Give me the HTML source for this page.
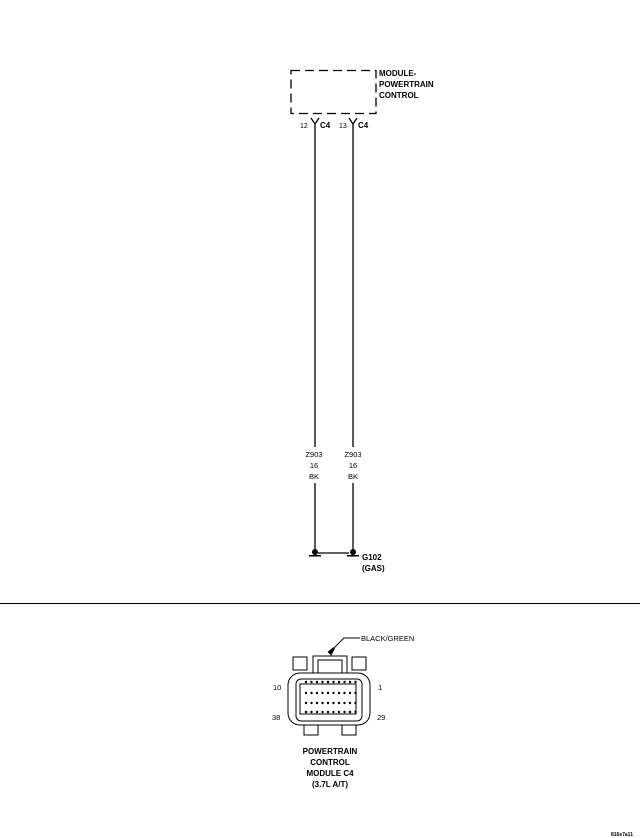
<!DOCTYPE html>
<html><head><style>body{margin:0;background:#fff}svg{display:block}text{font-family:"Liberation Sans",sans-serif}</style></head>
<body>
<svg width="640" height="838" viewBox="0 0 640 838" xmlns="http://www.w3.org/2000/svg">
<defs>
<g id="r"><circle cx="306" cy="0" r="1.2"/><circle cx="311.5" cy="0" r="1.2"/><circle cx="317" cy="0" r="1.2"/><circle cx="322.5" cy="0" r="1.2"/><circle cx="328" cy="0" r="1.2"/><circle cx="333.5" cy="0" r="1.2"/><circle cx="339" cy="0" r="1.2"/><circle cx="344.5" cy="0" r="1.2"/><circle cx="350" cy="0" r="1.2"/><circle cx="355.5" cy="0" r="1.2"/></g>
</defs>
<g fill="none" stroke="#000" stroke-width="1.3">
<rect x="291" y="70.5" width="85" height="43" stroke-dasharray="9,5"/>
<line x1="315" y1="124" x2="315" y2="447"/>
<line x1="353" y1="124" x2="353" y2="447"/>
<line x1="315" y1="483" x2="315" y2="553"/>
<line x1="353" y1="483" x2="353" y2="553"/>
<path d="M311 118 L315 124 L319 118 M349 118 L353 124 L357 118"/>
<line x1="318" y1="553" x2="349" y2="553"/>
</g>
<g font-size="8" fill="#000">
<text x="300" y="128" font-size="7">12</text><text x="320" y="128" font-weight="bold">C4</text>
<text x="339" y="128" font-size="7">13</text><text x="358" y="128" font-weight="bold">C4</text>
<text x="379" y="76" font-weight="bold">MODULE-</text>
<text x="379" y="87" font-weight="bold">POWERTRAIN</text>
<text x="379" y="98" font-weight="bold">CONTROL</text>
</g>
<g font-size="7.5" text-anchor="middle" fill="#000">
<text x="314" y="457">Z903</text><text x="314" y="468">16</text><text x="314" y="479">BK</text>
<text x="353" y="457">Z903</text><text x="353" y="468">16</text><text x="353" y="479">BK</text>
</g>
<g fill="#000">
<circle cx="315" cy="552" r="3"/><rect x="309" y="555" width="12" height="1.5"/>
<circle cx="353" cy="552" r="3"/><rect x="347" y="555" width="12" height="1.5"/>
<text x="362" y="560" font-size="8" font-weight="bold">G102</text>
<text x="362" y="571" font-size="8" font-weight="bold">(GAS)</text>
</g>
<line x1="0" y1="603.5" x2="640" y2="603.5" stroke="#000" stroke-width="1"/>
<g fill="none" stroke="#000" stroke-width="1">
<path d="M360 638 L344 638 L334 648"/>
<rect x="288" y="673" width="82" height="52" rx="12"/>
<rect x="296" y="679" width="66" height="42" rx="5"/>
<rect x="313" y="656" width="34" height="17"/>
<rect x="318" y="660" width="24" height="13"/>
<rect x="293" y="657" width="14" height="13"/>
<rect x="352" y="657" width="14" height="13"/>
<rect x="304" y="725" width="14" height="10"/>
<rect x="342" y="725" width="14" height="10"/>
<rect x="300" y="684" width="56" height="30"/>
</g>
<path d="M334 648 L329 652 L331 654 Z" fill="#000" stroke="#000" stroke-width="2"/>
<g fill="#000">
<use href="#r" y="682"/><use href="#r" y="693"/><use href="#r" y="703"/><use href="#r" y="712"/>
</g>
<g font-size="7.5" fill="#000">
<text x="361" y="641">BLACK/GREEN</text>
<text x="273" y="690">10</text><text x="378" y="690">1</text>
<text x="272" y="720">38</text><text x="377" y="720">29</text>
</g>
<g font-size="8" font-weight="bold" text-anchor="middle" fill="#000">
<text x="330" y="754">POWERTRAIN</text>
<text x="330" y="765">CONTROL</text>
<text x="330" y="776">MODULE C4</text>
<text x="330" y="787">(3.7L A/T)</text>
</g>
<text x="611" y="836" font-size="5" font-weight="bold">816e7a11</text>
</svg>
</body></html>
